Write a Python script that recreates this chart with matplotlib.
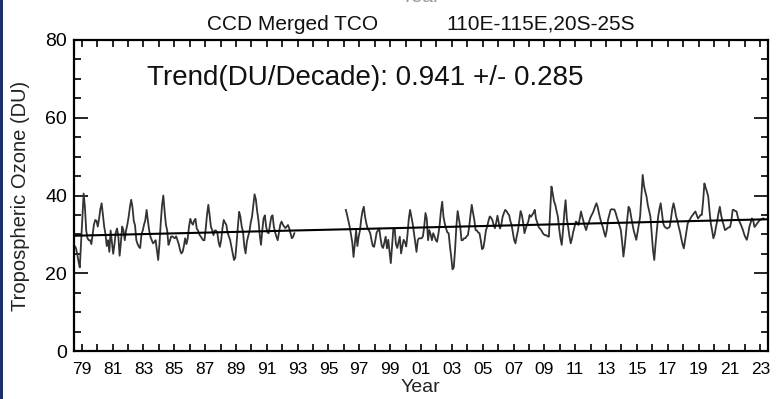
import numpy as np
import matplotlib
matplotlib.use("Agg")
import matplotlib.pyplot as plt
from matplotlib.ticker import FixedLocator, MultipleLocator
from matplotlib.patches import Rectangle

plt.rcParams['font.family'] = ['Liberation Sans', 'DejaVu Sans']

# Monthly tropospheric column ozone (DU), first record: Jan 1979 - Apr 1993
tco_early_start = (1979, 1)
tco_early = [
    27.0, 26.5, 25.0, 23.0, 21.5, 28.0, 35.0, 40.5, 37.0, 31.0, 29.0, 28.5,  # 1979
    28.5, 27.5, 30.0, 32.5, 33.7, 33.5, 32.0, 34.0, 36.5, 38.0, 35.0, 32.0,  # 1980
    30.0, 27.0, 28.5, 25.5, 31.0, 28.0, 25.0, 27.5, 30.5, 31.5, 29.5, 24.5,  # 1981
    28.0, 32.0, 31.0, 28.5, 31.0, 32.5, 34.5, 37.0, 38.9, 37.0, 33.5, 32.3,  # 1982
    28.5, 27.5, 26.8, 26.5, 30.0, 31.0, 32.5, 33.7, 36.3, 33.5, 31.0, 29.4,  # 1983
    28.5, 27.7, 28.0, 28.5, 26.0, 23.4, 27.5, 33.0, 37.5, 40.0, 36.0, 32.5,  # 1984
    31.0, 27.3, 28.2, 29.4, 29.5, 29.2, 29.0, 29.5, 28.5, 27.5, 26.0, 25.1,  # 1985
    25.5, 27.0, 29.0, 27.5, 29.0, 32.0, 34.0, 33.0, 32.5, 33.5, 34.0, 31.5,  # 1986
    31.0, 30.0, 29.5, 29.0, 28.5, 28.5, 31.5, 35.0, 37.6, 35.0, 32.0, 31.1,  # 1987
    29.8, 31.0, 31.0, 30.5, 28.0, 26.8, 28.5, 31.5, 33.7, 33.0, 32.5, 30.5,  # 1988
    29.5, 28.5, 26.8, 25.0, 23.4, 24.0, 27.7, 32.0, 35.8, 34.5, 32.0, 30.7,  # 1989
    27.0, 25.1, 28.1, 29.5, 30.7, 33.0, 34.5, 37.5, 40.3, 39.0, 36.0, 33.7,  # 1990
    30.0, 27.3, 31.0, 34.1, 34.9, 32.0, 30.5, 30.3, 32.5, 34.5, 34.9, 32.0,  # 1991
    30.5, 29.4, 28.5, 30.5, 32.5, 33.3, 32.5, 32.0, 31.6, 32.0, 32.4, 31.5,  # 1992
    30.3, 29.0, 29.4, 30.3,                                                  # 1993
]

# Second record: Aug 1996 - Sep 2023
tco_late_start = (1996, 8)
tco_late = [
    36.3, 35.0, 33.5, 32.0, 30.0,                                            # 1996
    28.0, 24.2, 27.7, 31.0, 27.0, 29.4, 31.0, 34.0, 36.0, 37.1, 34.5, 32.8,  # 1997
    31.5, 31.0, 30.3, 28.5, 27.0, 26.8, 28.5, 30.5, 31.0, 31.5, 29.0, 27.0,  # 1998
    26.5, 28.0, 29.4, 26.4, 28.6, 25.5, 22.6, 27.0, 31.5, 31.5, 27.5, 26.5,  # 1999
    28.0, 29.4, 25.1, 27.0, 28.6, 28.0, 26.9, 30.0, 34.0, 36.3, 34.5, 32.8,  # 2000
    30.5, 28.0, 25.5, 28.5, 29.0, 29.0, 29.0, 29.5, 32.0, 35.5, 34.0, 28.5,  # 2001
    31.1, 30.0, 28.5, 30.3, 29.5, 28.5, 28.1, 30.0, 32.4, 36.0, 38.4, 34.5,  # 2002
    32.8, 31.5, 30.5, 30.3, 27.0, 24.3, 21.0, 21.5, 26.0, 32.0, 36.0, 34.0,  # 2003
    32.0, 28.5, 28.5, 29.0, 29.0, 29.5, 29.8, 32.0, 35.0, 37.6, 35.5, 33.7,  # 2004
    31.1, 31.0, 30.5, 30.3, 28.5, 26.2, 26.5, 28.5, 31.0, 32.0, 33.5, 34.6,  # 2005
    34.3, 33.7, 32.5, 31.6, 33.0, 34.8, 33.0, 31.5, 32.5, 34.5, 35.5, 36.3,  # 2006
    36.0, 35.4, 35.0, 33.5, 32.4, 30.5, 28.5, 27.7, 29.5, 31.1, 33.5, 36.0,  # 2007
    35.0, 33.0, 30.3, 31.5, 32.5, 33.3, 35.0, 34.5, 35.0, 35.5, 36.3, 34.0,  # 2008
    33.0, 31.9, 31.5, 31.1, 30.5, 30.0, 29.8, 29.8, 29.5, 29.4, 36.0, 42.3,  # 2009
    40.5, 38.5, 37.6, 36.0, 34.6, 31.5, 29.0, 27.3, 31.0, 35.5, 38.8, 34.0,  # 2010
    31.9, 29.5, 27.7, 29.0, 30.7, 32.0, 33.3, 33.0, 32.4, 34.0, 35.9, 34.5,  # 2011
    33.3, 32.0, 31.1, 32.4, 33.0, 34.0, 34.8, 35.4, 36.2, 37.2, 38.0, 37.0,  # 2012
    35.4, 34.0, 32.8, 31.9, 30.5, 29.4, 31.0, 33.7, 35.0, 36.3, 36.5, 36.4,  # 2013
    36.4, 35.5, 34.3, 33.3, 32.2, 31.1, 28.0, 24.3, 27.0, 30.3, 34.0, 37.1,  # 2014
    36.5, 34.5, 32.8, 31.0, 29.8, 28.6, 30.5, 32.5, 34.6, 40.0, 45.3, 42.5,  # 2015
    41.0, 39.7, 37.5, 36.0, 34.6, 30.3, 26.0, 23.4, 27.5, 31.1, 34.5, 36.5,  # 2016
    38.0, 35.5, 32.8, 32.0, 31.7, 31.5, 31.7, 31.9, 34.0, 36.5, 38.0, 36.5,  # 2017
    34.6, 33.5, 32.0, 30.7, 29.0, 27.5, 26.4, 28.5, 30.5, 32.8, 33.5, 34.0,  # 2018
    34.6, 35.0, 35.5, 35.9, 35.0, 34.1, 34.5, 35.0, 35.0, 38.5, 43.1, 42.0,  # 2019
    41.0, 39.7, 36.0, 32.8, 31.0, 29.0, 30.0, 31.9, 33.5, 35.5, 37.1, 35.0,  # 2020
    33.5, 32.4, 31.1, 31.3, 31.6, 31.8, 31.9, 33.5, 36.3, 36.3, 36.0, 35.9,  # 2021
    34.5, 33.5, 32.8, 32.0, 31.1, 30.0, 29.2, 28.6, 30.0, 31.9, 33.0, 34.1,  # 2022
    33.5, 31.9, 32.3, 32.8, 33.2, 33.7, 33.8, 34.0, 34.1,                    # 2023
]

# Linear trend fit
trend_per_decade = 0.941
trend_sigma = 0.285
trend_at_1979 = 29.65

year_range = (1979, 2024)
labelled_years = list(range(1979, 2024, 2))
unlabelled_years = list(range(1980, 2024, 2))


def month_times(start, n):
    """Mid-month decimal years for n consecutive months from (year, month)."""
    y0, m0 = start
    idx = np.arange(n) + (m0 - 1)
    return y0 + (idx + 0.5) / 12.0


t_early = month_times(tco_early_start, len(tco_early))
t_late = month_times(tco_late_start, len(tco_late))

W, H = 776, 399
fig = plt.figure(figsize=(W / 100, H / 100), dpi=100)
fig.patch.set_facecolor('white')

# thin navy frame strip along the left edge
fig.patches.append(Rectangle((0, 0), 3 / W, 1, transform=fig.transFigure,
                             facecolor='#1b2f6b', edgecolor='none', zorder=10))

ax = fig.add_axes([74 / W, 1 - 351 / H, 694 / W, 311 / H])

line_col = '#333333'
ax.plot(t_early, tco_early, color=line_col, lw=1.3, solid_joinstyle='round')
ax.plot(t_late, tco_late, color=line_col, lw=1.3, solid_joinstyle='round')

trend_t = np.array(year_range, dtype=float)
trend_v = trend_at_1979 + trend_per_decade / 10.0 * (trend_t - year_range[0])
ax.plot(trend_t, trend_v, color='black', lw=1.5)

ax.set_xlim(*year_range)
ax.set_ylim(0, 80)

ax.xaxis.set_major_locator(FixedLocator([y + 0.5 for y in labelled_years]))
ax.xaxis.set_minor_locator(FixedLocator([y + 0.5 for y in unlabelled_years]))
ax.set_xticklabels([f"{y % 100:02d}" for y in labelled_years])
ax.yaxis.set_major_locator(MultipleLocator(20))
ax.yaxis.set_minor_locator(MultipleLocator(5))

ax.tick_params(axis='x', which='both', direction='in', length=5, width=1.2,
               top=True, labelsize=12.5, pad=8, colors='black')
ax.tick_params(axis='y', which='major', direction='in', length=10, width=1.2,
               right=True, labelsize=14, pad=5)
ax.tick_params(axis='y', which='minor', direction='in', length=5, width=1.2,
               right=True)
for s in ax.spines.values():
    s.set_linewidth(1.6)
    s.set_color('black')

ax.text(0.105, 0.855,
        f"Trend(DU/Decade): {trend_per_decade:.3f} +/- {trend_sigma:.3f}",
        transform=ax.transAxes, ha='left', va='baseline', fontsize=20,
        color='#111111')

fig.text(293 / W, 1 - 30 / H, "CCD Merged TCO", ha='center', va='baseline',
         fontsize=15, color='#111111')
fig.text(541 / W, 1 - 30 / H, "110E-115E,20S-25S", ha='center',
         va='baseline', fontsize=15, color='#111111')

fig.text(420 / W, 1 - 392 / H, "Year", ha='center', va='baseline',
         fontsize=14, color='#222222')
# axis title of the panel above, clipped by the top edge
fig.text(420 / W, 1 - 2 / H, "Year", ha='center', va='baseline',
         fontsize=14, color='#999999')

fig.text(21 / W, 1 - 195.5 / H, "Tropospheric Ozone (DU)",
         rotation=90, ha='center', va='center', fontsize=14.5, color='#222222')

fig.savefig("out.png", dpi=100, facecolor='white')
